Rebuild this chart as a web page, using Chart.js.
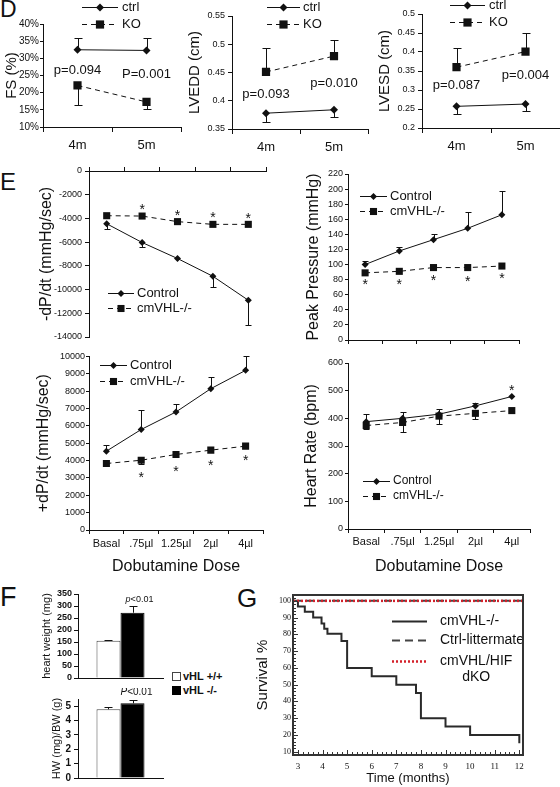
<!DOCTYPE html>
<html>
<head>
<meta charset="utf-8">
<title>cmVHL heart function</title>
<script src="https://cdn.jsdelivr.net/npm/chart.js"></script>
<style>
  html, body { margin: 0; padding: 0; background: #fff; }
  body { position: relative; width: 560px; height: 787px; overflow: hidden; font-family: "Liberation Sans", Arial, sans-serif; color: #111; }
  canvas { position: absolute; }
  .tag { position: absolute; line-height: 1; }
  .key { position: absolute; left: 172px; top: 669px; font-size: 11px; line-height: 14px; }
  .key span { display: inline-block; width: 7px; height: 7px; border: 1px solid #444; margin-right: 2px; vertical-align: -1px; }
</style>
</head>
<body>
<div class="tag" style="left:0;top:-2px;font-size:23px">D</div>
<div class="tag" style="left:0;top:170px;font-size:24px">E</div>
<div class="tag" style="left:0;top:584px;font-size:27px">F</div>
<div class="tag" style="left:237px;top:585px;font-size:26px">G</div>
<div class="key"><div><span style="background:#fff"></span><b id="k0"></b></div><div><span style="background:#000;border-color:#000"></span><b id="k1"></b></div></div>

<canvas id="fs"></canvas>
<canvas id="edd"></canvas>
<canvas id="esd"></canvas>
<canvas id="neg"></canvas>
<canvas id="pp"></canvas>
<canvas id="pos"></canvas>
<canvas id="hr"></canvas>
<canvas id="hw"></canvas>
<canvas id="hwbw"></canvas>
<canvas id="surv"></canvas>

<script>
// ---- panel D: echo, 4 and 5 months ----
const months = ['4m', '5m'];
const fsCtrl = [32.5, 32.3];
const fsCtrlErr = [35.8, 35.8];
const fsKO = [22.1, 17.3];
const fsKOErr = [16.5, 15.1];
const fsTicks = [10, 15, 20, 25, 30, 35, 40];
const fsP = ['p=0.094', 'P=0.001'];
const fsPAt = [26.6, 25.4];

const eddCtrl = [0.378, 0.384];
const eddCtrlErr = [0.363, 0.371];
const eddKO = [0.451, 0.479];
const eddKOErr = [0.493, 0.508];
const eddTicks = [0.35, 0.4, 0.45, 0.5, 0.55];
const eddP = ['p=0.093', 'p=0.010'];
const eddPAt = [0.412, 0.431];

const esdCtrl = [0.257, 0.263];
const esdCtrlErr = [0.236, 0.245];
const esdKO = [0.360, 0.401];
const esdKOErr = [0.410, 0.451];
const esdTicks = [0.2, 0.25, 0.3, 0.35, 0.4, 0.45, 0.5];
const esdP = ['p=0.087', 'p=0.004'];
const esdPAt = [0.311, 0.339];

// ---- panel E: dobutamine dose response ----
const doses = ['Basal', '.75µl', '1.25µl', '2µl', '4µl'];
const negCtrl = [-4450, -6030, -7380, -8880, -10900];
const negCtrlErr = [-4860, -6450, null, -9800, -13000];
const negKO = [-3770, -3800, -4270, -4500, -4500];
const negStar = [null, -2930, -3440, -3600, -3690];
const negTicks = [0, -2000, -4000, -6000, -8000, -10000, -12000, -14000];

const ppCtrl = [100, 118, 133, 148, 166];
const ppCtrlErr = [105, 123, 140, 169, 198];
const ppKO = [89, 91, 96, 96, 98];
const ppStar = [78, 79, 83, 82, 86];
const ppTicks = [0, 20, 40, 60, 80, 100, 120, 140, 160, 180, 200, 220];

const posCtrl = [4540, 5790, 6800, 8140, 9195];
const posCtrlErr = [4925, 6940, 7280, 8810, 10000];
const posKO = [3830, 4020, 4350, 4600, 4830];
const posKOErr = [null, 3775, null, null, null];
const posStar = [null, 3220, 3560, 3900, 4200];
const posTicks = [0, 1000, 2000, 3000, 4000, 5000, 6000, 7000, 8000, 9000, 10000];

const hrCtrl = [388, 400, 415, 445, 479];
const hrCtrlErr = [415, 422, 433, 455, null];
const hrKO = [374, 385, 408, 418, 428];
const hrKOErr = [360, 352, 380, 398, null];
const hrStar = [null, null, null, null, 513];
const hrTicks = [0, 100, 200, 300, 400, 500, 600];

// ---- panel F: heart weight ----
const groups = ['vHL +/+', 'vHL -/-'];
const heartWeight = [155, 272];
const heartWeightErr = [158, 300];
const hwTicks = [0, 50, 100, 150, 200, 250, 300, 350];
const hwRatio = [4.78, 5.2];
const hwRatioErr = [4.93, 5.4];
const ratioTicks = [0, 1, 2, 3, 4, 5];

// ---- panel G: survival ----
const survMonths = [3, 3, 3.28, 3.62, 3.96, 4.07, 4.2, 4.77, 5, 6, 7, 7.8, 8, 9, 10, 12];
const survPct = [100, 96.6, 93.5, 90, 86.5, 83.4, 80.4, 76, 60, 55, 50, 45, 30, 25, 20, 15];
const litterMonths = [2.8, 12.15];
const litterPct = [100, 100];
const dkoMonths = [2.8, 12.15];
const dkoPct = [100, 100];
const monthTicks = [3, 4, 5, 6, 7, 8, 9, 10, 11, 12];
const survTicks = [10, 20, 30, 40, 50, 60, 70, 80, 90, 100];

const FAM = '"Liberation Sans", Arial, sans-serif';
const INK = '#111';
Chart.defaults.font.family = FAM;
Chart.defaults.color = INK;

document.getElementById('k0').textContent = groups[0];
document.getElementById('k1').textContent = groups[1];

function drawMark(ctx, style, x, y, r) {
  ctx.beginPath();
  if (style === 'rectRot') {
    ctx.moveTo(x - r, y); ctx.lineTo(x, y - r); ctx.lineTo(x + r, y); ctx.lineTo(x, y + r);
    ctx.closePath();
  } else {
    const s = r * Math.SQRT1_2;
    ctx.rect(x - s, y - s, 2 * s, 2 * s);
  }
  ctx.fill();
}

// error bars: one-sided, from the mark to the value in ds.err
const errorBars = {
  id: 'errorBars',
  beforeDatasetsDraw(chart, args, o) {
    const ctx = chart.ctx, ys = chart.scales.y;
    ctx.save();
    ctx.strokeStyle = INK;
    ctx.lineWidth = 1;
    chart.data.datasets.forEach((ds, di) => {
      if (!ds.err) return;
      const pts = chart.getDatasetMeta(di).data;
      ds.err.forEach((e, i) => {
        if (e == null) return;
        const x = Math.round(pts[i].x) + 0.5;
        const y1 = Math.round(ys.getPixelForValue(e)) + 0.5;
        ctx.beginPath();
        ctx.moveTo(x, pts[i].y); ctx.lineTo(x, y1);
        ctx.moveTo(x - o.cap, y1); ctx.lineTo(x + o.cap, y1);
        ctx.stroke();
      });
    });
    ctx.restore();
  }
};

// stars and p values placed at a dataset's x and a y value
const notes = {
  id: 'notes',
  afterDatasetsDraw(chart, args, o) {
    if (!o.items) return;
    const ctx = chart.ctx, ys = chart.scales.y;
    ctx.save();
    ctx.fillStyle = INK;
    o.items.forEach(it => {
      const pts = chart.getDatasetMeta(it.ds).data;
      it.at.forEach((v, i) => {
        if (v == null) return;
        const txt = Array.isArray(it.text) ? it.text[i] : it.text;
        const x = pts[i].x + (it.dx || 0);
        const y = ys.getPixelForValue(v);
        if (it.star) {
          ctx.font = it.size + 'px ' + FAM;
          ctx.textAlign = 'center';
          ctx.textBaseline = 'alphabetic';
          ctx.fillText(txt, x, y + it.size * 0.58);
          return;
        }
        ctx.textBaseline = 'middle';
        if (it.italic) {
          const f1 = 'italic ' + it.size + 'px ' + FAM, f2 = it.size + 'px ' + FAM;
          ctx.font = f1; const w1 = ctx.measureText(txt[0]).width;
          ctx.font = f2; const w2 = ctx.measureText(txt.slice(1)).width;
          const sx = x - (w1 + w2) / 2;
          ctx.textAlign = 'left';
          ctx.font = f1; ctx.fillText(txt[0], sx, y);
          ctx.font = f2; ctx.fillText(txt.slice(1), sx + w1, y);
        } else {
          ctx.font = it.size + 'px ' + FAM;
          ctx.textAlign = 'center';
          ctx.fillText(txt, x, y);
        }
      });
    });
    ctx.restore();
  }
};

// legend drawn inside the plot, at fixed rows
const keyLegend = {
  id: 'keyLegend',
  afterDraw(chart, args, o) {
    if (!o.rows) return;
    const ctx = chart.ctx;
    ctx.save();
    chart.data.datasets.forEach((ds, i) => {
      const y = o.rows[i], mid = (o.x1 + o.x2) / 2;
      ctx.strokeStyle = ds.borderColor;
      ctx.lineWidth = ds.borderWidth;
      ctx.setLineDash(ds.borderDash || []);
      ctx.beginPath(); ctx.moveTo(o.x1, y + 0.5); ctx.lineTo(o.x2, y + 0.5); ctx.stroke();
      ctx.setLineDash([]);
      if (ds.pointRadius) {
        ctx.fillStyle = ds.pointBackgroundColor;
        drawMark(ctx, ds.pointStyle, mid, y + 0.5, ds.pointRadius);
      }
      ctx.fillStyle = INK;
      ctx.font = o.size + 'px ' + FAM;
      ctx.textBaseline = 'middle';
      const lines = Array.isArray(ds.label) ? ds.label : [ds.label];
      const w = Math.max(...lines.map(t => ctx.measureText(t).width));
      lines.forEach((t, k) => {
        if (lines.length > 1) { ctx.textAlign = 'center'; ctx.fillText(t, o.tx + w / 2, y + k * o.lh); }
        else { ctx.textAlign = 'left'; ctx.fillText(t, o.tx, y); }
      });
    });
    ctx.restore();
  }
};

// boxed frame with inward minor ticks (panel G)
const frame = {
  id: 'frame',
  afterDraw(chart, args, o) {
    if (!o.on) return;
    const {ctx, chartArea: c, scales: {x, y}} = chart;
    ctx.save();
    ctx.strokeStyle = '#333';
    ctx.lineWidth = 1;
    ctx.beginPath();
    for (let v = Math.ceil(x.min / o.xStep) * o.xStep; v <= x.max; v += o.xStep) {
      const p = Math.round(x.getPixelForValue(v)) + 0.5;
      const L = Math.abs(v - Math.round(v)) < 0.01 ? 5 : 3;
      ctx.moveTo(p, c.bottom); ctx.lineTo(p, c.bottom - L);
    }
    for (let v = Math.ceil(y.min / o.yStep) * o.yStep; v <= y.max; v += o.yStep) {
      const p = Math.round(y.getPixelForValue(v)) + 0.5;
      const L = v % 10 === 0 ? 5 : 3;
      ctx.moveTo(c.left, p); ctx.lineTo(c.left + L, p);
    }
    ctx.stroke();
    ctx.lineWidth = 2;
    ctx.strokeRect(c.left, c.top, c.right - c.left, c.bottom - c.top);
    ctx.restore();
  }
};

function build(id, cv, area, cfg) {
  const el = document.getElementById(id);
  el.width = cv.w; el.height = cv.h;
  el.style.left = cv.x + 'px'; el.style.top = cv.y + 'px';
  const top = !!cfg.xTop;
  const yW = area.l - cv.x;
  const xH = top ? area.t - cv.y : cv.y + cv.h - area.b;
  const X = cfg.x, Y = cfg.y;
  const lin = X.type === 'linear';

  const xs = {
    type: lin ? 'linear' : 'category',
    position: top ? 'top' : 'bottom',
    offset: !lin,
    grid: {display: true, drawOnChartArea: false, offset: !lin, drawTicks: !!X.tl, tickLength: X.tl || 0, color: INK},
    border: {display: X.border !== false, color: INK, width: 1},
    ticks: {display: X.labels !== false, font: X.font || {size: 11}, padding: X.pad || 0, maxRotation: 0, autoSkip: false},
    title: {display: !!X.title, text: X.title || '', font: {size: 16}, padding: {top: 0, bottom: X.titlePad || 4}},
    afterFit: s => { s.height = xH; }
  };
  if (lin) {
    Object.assign(xs, {min: X.min, max: X.max, bounds: 'data',
      afterBuildTicks: s => { s.ticks = X.ticks.map(v => ({value: v})); }});
    xs.ticks.callback = v => String(v);
    xs.title.font = X.titleFont;
  }

  const ys = {
    type: 'linear', min: Y.min, max: Y.max, bounds: 'data',
    afterBuildTicks: s => { s.ticks = Y.ticks.map(v => ({value: v})); },
    grid: {display: true, drawOnChartArea: false, drawTicks: !!Y.tl, tickLength: Y.tl || 0, color: INK},
    border: {display: Y.border !== false, color: INK, width: 1},
    ticks: {font: Y.font, padding: Y.pad, autoSkip: false, color: INK, callback: Y.fmt || (v => String(v))},
    title: {display: true, text: Y.title, font: Y.titleFont || {size: 16}, padding: {top: Y.titlePad, bottom: 0}},
    afterFit: s => { s.width = yW; }
  };

  let leg = {};
  if (cfg.legend) {
    const g = cfg.legend;
    leg = {x1: g.x1 - cv.x, x2: g.x2 - cv.x, tx: g.tx - cv.x, rows: g.rows.map(r => r - cv.y), size: g.size, lh: g.lh || 16};
  }

  return new Chart(el, {
    type: cfg.type || 'line',
    data: {labels: cfg.labels, datasets: cfg.datasets},
    options: {
      responsive: false,
      animation: false,
      layout: {autoPadding: false, padding: {
        left: 0, right: cv.x + cv.w - area.r,
        top: top ? 0 : area.t - cv.y,
        bottom: top ? cv.y + cv.h - area.b : 0}},
      plugins: {
        legend: {display: false}, tooltip: {enabled: false},
        errorBars: {cap: cfg.cap || 3},
        notes: {items: cfg.notes || []},
        keyLegend: leg,
        frame: cfg.frame || {}
      },
      scales: {x: xs, y: ys}
    },
    plugins: [errorBars, notes, keyLegend, frame]
  });
}

function ctrlSet(label, data, err, r) {
  return {label, data, err, borderColor: INK, borderWidth: 1, tension: 0,
    pointStyle: 'rectRot', pointRadius: r, pointBackgroundColor: INK, pointBorderWidth: 0};
}
function koSet(label, data, err, r) {
  return {label, data, err, borderColor: INK, borderWidth: 1, borderDash: [5, 4], tension: 0,
    pointStyle: 'rect', pointRadius: r, pointBackgroundColor: INK, pointBorderWidth: 0};
}

// ---- D ----
const dX = {tl: 5, pad: 6, font: {size: 13}};
build('fs', {x: 0, y: 0, w: 190, h: 160}, {l: 43, t: 24, r: 181, b: 127}, {
  labels: months,
  datasets: [ctrlSet('ctrl', fsCtrl, fsCtrlErr, 4), koSet('KO', fsKO, fsKOErr, 5.8)],
  x: dX,
  y: {min: 10, max: 40, ticks: fsTicks, fmt: v => v + '%', font: {size: 10}, tl: 3, pad: 1,
      title: 'FS (%)', titleFont: {size: 15}, titlePad: 3},
  cap: 4,
  legend: {x1: 82, x2: 118, tx: 122, rows: [7, 24], size: 13},
  notes: [{ds: 0, at: fsPAt, text: fsP, size: 13}]
});
build('edd', {x: 180, y: 0, w: 192, h: 160}, {l: 232, t: 16, r: 368, b: 129}, {
  labels: months,
  datasets: [ctrlSet('ctrl', eddCtrl, eddCtrlErr, 4), koSet('KO', eddKO, eddKOErr, 5.8)],
  x: dX,
  y: {min: 0.35, max: 0.55, ticks: eddTicks, font: {size: 9}, tl: 4, pad: 3,
      title: 'LVEDD (cm)', titleFont: {size: 15}, titlePad: 6},
  cap: 4,
  legend: {x1: 267, x2: 300, tx: 303, rows: [7, 24], size: 13},
  notes: [{ds: 0, at: eddPAt, text: eddP, size: 13}]
});
build('esd', {x: 365, y: 0, w: 198, h: 160}, {l: 422, t: 14, r: 560, b: 128}, {
  labels: months,
  datasets: [ctrlSet('ctrl', esdCtrl, esdCtrlErr, 4), koSet('KO', esdKO, esdKOErr, 5.8)],
  x: dX,
  y: {min: 0.2, max: 0.5, ticks: esdTicks, font: {size: 9}, tl: 4, pad: 3,
      title: 'LVESD (cm)', titleFont: {size: 15}, titlePad: 11},
  cap: 4,
  legend: {x1: 450, x2: 485, tx: 489, rows: [5, 22], size: 13},
  notes: [{ds: 0, at: esdPAt, text: esdP, size: 13}]
});

// ---- E ----
build('neg', {x: 0, y: 160, w: 280, h: 190}, {l: 89, t: 171, r: 266, b: 337}, {
  xTop: true,
  labels: doses,
  datasets: [ctrlSet('Control', negCtrl, negCtrlErr, 3.5), koSet('cmVHL-/-', negKO, null, 5)],
  x: {tl: 4, labels: false},
  y: {min: -14000, max: 0, ticks: negTicks, font: {size: 9}, tl: 4, pad: 3,
      title: '-dP/dt (mmHg/sec)', titlePad: 37},
  legend: {x1: 108, x2: 134, tx: 137, rows: [293, 308], size: 13},
  notes: [{ds: 1, at: negStar, text: '*', size: 14, star: true}]
});
build('pp', {x: 280, y: 160, w: 280, h: 190}, {l: 348, t: 174, r: 519, b: 340}, {
  labels: doses,
  datasets: [ctrlSet('Control', ppCtrl, ppCtrlErr, 3.5), koSet('cmVHL-/-', ppKO, null, 5)],
  x: {tl: 4, labels: false},
  y: {min: 0, max: 220, ticks: ppTicks, font: {size: 9}, tl: 3, pad: 2,
      title: 'Peak Pressure (mmHg)', titlePad: 24},
  legend: {x1: 360, x2: 387, tx: 390, rows: [196, 211], size: 13},
  notes: [{ds: 1, at: ppStar, text: '*', size: 14, star: true}]
});
build('pos', {x: 0, y: 350, w: 280, h: 230}, {l: 89, t: 356, r: 263, b: 530}, {
  labels: doses,
  datasets: [ctrlSet('Control', posCtrl, posCtrlErr, 3.5), koSet('cmVHL-/-', posKO, posKOErr, 5)],
  x: {tl: 4, pad: 3, font: {size: 11}, title: 'Dobutamine Dose', titlePad: 4},
  y: {min: 0, max: 10000, ticks: posTicks, font: {size: 9}, tl: 3, pad: 1,
      title: '+dP/dt (mmHg/sec)', titlePad: 34},
  legend: {x1: 100, x2: 127, tx: 130, rows: [365, 381], size: 13},
  notes: [{ds: 1, at: posStar, text: '*', size: 14, star: true}]
});
build('hr', {x: 280, y: 350, w: 280, h: 230}, {l: 348, t: 363, r: 530, b: 529}, {
  labels: doses,
  datasets: [ctrlSet('Control', hrCtrl, hrCtrlErr, 3.5), koSet('cmVHL-/-', hrKO, hrKOErr, 5)],
  x: {tl: 4, pad: 2, font: {size: 11}, title: 'Dobutamine Dose', titlePad: 4},
  y: {min: 0, max: 600, ticks: hrTicks, font: {size: 9}, tl: 3, pad: 2,
      title: 'Heart Rate (bpm)', titlePad: 22},
  legend: {x1: 363, x2: 390, tx: 393, rows: [481, 496], size: 12},
  notes: [{ds: 0, at: hrStar, text: '*', size: 14, star: true}]
});

// ---- F ----
function barSets(vals, errs) {
  return groups.map((g, i) => ({
    label: g, data: [vals[i]], err: [errs[i]],
    backgroundColor: i ? '#000' : '#fff', borderColor: i ? '#000' : '#444', borderWidth: 1,
    categoryPercentage: 0.565, barPercentage: 1
  }));
}
build('hw', {x: 0, y: 585, w: 170, h: 101}, {l: 78, t: 594, r: 163, b: 678}, {
  type: 'bar', labels: [''],
  datasets: barSets(heartWeight, heartWeightErr),
  x: {tl: 0, labels: false},
  y: {min: 0, max: 350, ticks: hwTicks, font: {size: 9, weight: 'bold'}, tl: 4, pad: 2,
      title: 'heart weight (mg)', titleFont: {size: 11}, titlePad: 40},
  cap: 4,
  notes: [{ds: 1, at: [329], text: 'p<0.01', size: 9, italic: true, dx: 7}]
});
build('hwbw', {x: 0, y: 688, w: 170, h: 99}, {l: 78, t: 699, r: 163, b: 780}, {
  type: 'bar', labels: [''],
  datasets: barSets(hwRatio, hwRatioErr),
  x: {tl: 0, labels: false},
  y: {min: 0, max: 5.5, ticks: ratioTicks, font: {size: 10, weight: 'bold'}, tl: 4, pad: 3,
      title: 'HW (mg)/BW (g)', titleFont: {size: 11}, titlePad: 50},
  cap: 4,
  notes: [{ds: 1, at: [5.98], text: 'P<0.01', size: 10, italic: true, dx: 4}]
});

// ---- G ----
const pts = (xs, ys) => xs.map((x, i) => ({x, y: ys[i]}));
build('surv', {x: 252, y: 585, w: 308, h: 202}, {l: 293, t: 595, r: 523, b: 755}, {
  datasets: [
    {label: 'cmVHL-/-', data: pts(survMonths, survPct), stepped: true, borderColor: '#2a2a2a', borderWidth: 2, pointRadius: 0, order: 2},
    {label: 'Ctrl-littermate', data: pts(litterMonths, litterPct), borderColor: '#444', borderWidth: 2, borderDash: [8, 5], pointRadius: 0, order: 3},
    {label: ['cmVHL/HIF', 'dKO'], data: pts(dkoMonths, dkoPct), borderColor: '#d4202a', borderWidth: 2.5, borderDash: [2, 2], pointRadius: 0, order: 1}
  ],
  x: {type: 'linear', min: 2.8, max: 12.15, ticks: monthTicks, border: false, tl: 0, pad: 6,
      font: {size: 9, family: '"Liberation Serif", serif'},
      title: 'Time (months)', titleFont: {size: 13}, titlePad: 1},
  y: {min: 8, max: 103.5, ticks: survTicks, border: false, tl: 0, pad: 2,
      font: {size: 8, family: '"Liberation Serif", serif'},
      title: 'Survival %', titleFont: {size: 15}, titlePad: 2},
  legend: {x1: 392, x2: 427, tx: 440, rows: [621, 640, 661], size: 14, lh: 16},
  frame: {on: true, xStep: 0.2, yStep: 2}
});
</script>
</body>
</html>
